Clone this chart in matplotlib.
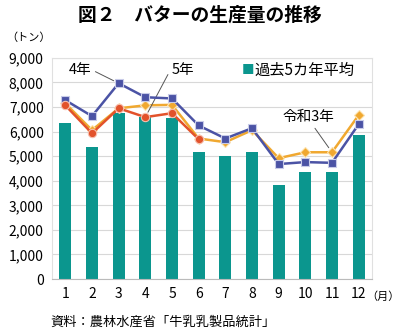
import matplotlib
matplotlib.use('Agg')
import matplotlib.pyplot as plt
import numpy as np

plt.rcParams['font.family'] = ['Noto Sans CJK JP', 'DejaVu Sans']

months = list(range(1, 13))
avg5 = [6340, 5370, 6750, 6600, 6540, 5170, 5010, 5170, 3830, 4350, 4350, 5850]
r4 = [7280, 6630, 7970, 7400, 7350, 6250, 5720, 6140, 4680, 4760, 4730, 6300]
r5 = [7070, 5930, 6950, 6590, 6750, 5690]
r3 = [7150, 6060, 6950, 7070, 7090, 5720, 5570, 6060, 4920, 5160, 5160, 6670]
yticks = [0, 1000, 2000, 3000, 4000, 5000, 6000, 7000, 8000, 9000]

fig = plt.figure(figsize=(4.0, 3.31), dpi=100)
ax = fig.add_axes([0.13, 0.157, 0.80, 0.668])

ax.bar(months, avg5, width=0.45, color='#0b968e', zorder=2)
ax.plot(months, r3, color='#f0a830', lw=1.8, marker='D', ms=5,
        mec='#fde3b0', mew=0.8, zorder=3)
ax.plot(months, r4, color='#4b53a5', lw=1.8, marker='s', ms=5.5,
        mec='#c8cbe8', mew=0.8, zorder=4)
ax.plot(months[:len(r5)], r5, color='#e2522b', lw=1.8, marker='o', ms=6,
        mec='#f6c0b0', mew=0.8, zorder=5)

ax.set_xlim(0.5, 12.5)
ax.set_ylim(0, 9000)
ax.set_yticks(yticks)
ax.set_yticklabels([f'{v:,}' for v in yticks], fontsize=10)
ax.set_xticks(months)
ax.set_xticklabels([str(m) for m in months], fontsize=10)
ax.tick_params(length=0, pad=6)
ax.yaxis.grid(True, color='#d8d8d8', lw=0.8, zorder=0)
ax.set_axisbelow(True)
for s in ['top', 'right', 'left']:
    ax.spines[s].set_color('#e0e0e0')
    ax.spines[s].set_linewidth(0.8)
ax.spines['bottom'].set_color('#bbbbbb')

# annotations with leader lines
line_kw = dict(arrowstyle='-', color='#555555', lw=0.7, shrinkA=1, shrinkB=4)
ax.annotate('4年', xy=(3, r4[2]), xytext=(1.55, 8500), fontsize=10.5,
            ha='center', va='center',
            arrowprops=dict(relpos=(1.05, 0.5), **line_kw))
ax.annotate('5年', xy=(4, r5[3]), xytext=(5.4, 8500), fontsize=10.5,
            ha='center', va='center',
            arrowprops=dict(relpos=(-0.05, 0.5), **line_kw))
ax.annotate('令和3年', xy=(11, r3[10]), xytext=(10.1, 6580), fontsize=10.5,
            ha='center', va='center',
            arrowprops=dict(relpos=(0.6, -0.1), **line_kw))

ax.text(8.1, 8500, '■', color='#0b968e', fontsize=9, ha='right', va='center')
ax.text(8.1, 8500, '過去5カ年平均', fontsize=11, ha='left', va='center')

fig.text(0.5, 0.955, '図２　バターの生産量の推移', fontsize=13.5, fontweight='bold',
         ha='center', va='center')
fig.text(0.015, 0.885, '（トン）', fontsize=8, ha='left', va='center')
fig.text(0.998, 0.103, '（月）', fontsize=8, ha='right', va='center')
fig.text(0.125, 0.027, '資料：農林水産省「牛乳乳製品統計」', fontsize=9.5,
         ha='left', va='center')

fig.savefig('out.png', dpi=100)
